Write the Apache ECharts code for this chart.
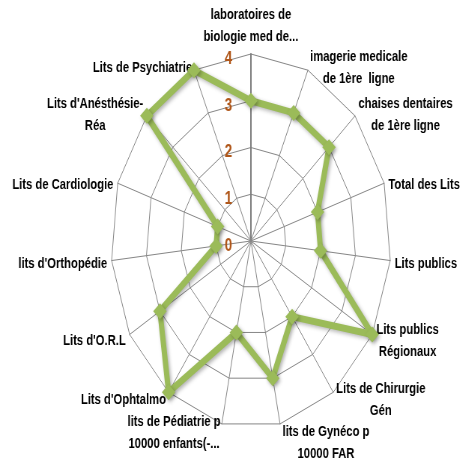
<!DOCTYPE html>
<html>
<head>
<meta charset="utf-8">
<script src="https://cdn.jsdelivr.net/npm/echarts@6/dist/echarts.min.js"></script>
<style>
    html, body { margin: 0; padding: 0; background: #fff; overflow: hidden; }
    #wrap { width: 466px; height: 462px; overflow: hidden; }
    /* the source picture is squeezed sideways, so draw wide and squeeze */
    #chart-container { width: 622px; height: 462px; transform: scaleX(0.749); transform-origin: 0 0; }
</style>
</head>
<body>
<div id="wrap"><div id="chart-container"></div></div>
<script>
var indicatorNames = [
    'laboratoires de\nbiologie med de...',
    'imagerie medicale\nde 1ère  ligne',
    'chaises dentaires\nde 1ère ligne',
    'Total des Lits',
    'Lits publics',
    'Lits publics\nRégionaux',
    'Lits de Chirurgie\nGén',
    'lits de Gynéco p\n10000 FAR',
    'lits de Pédiatrie p\n10000 enfants(-...',
    "Lits d'Ophtalmo",
    "Lits d'O.R.L",
    "lits d'Orthopédie",
    'Lits de Cardiologie',
    "Lits d'Anésthésie-\nRéa",
    'Lits de Psychiatrie'
];
var seriesValues = [3, 3, 3, 2, 2, 4, 2, 3, 2, 4, 3, 1, 1, 4, 4];
var axisMax = 4;

var NAME_FONT = 'bold 15px "Liberation Sans"';
var LABEL_COLOR = '#B0571A';

var chart = echarts.init(document.getElementById('chart-container'));

// echarts goes round anticlockwise, the source goes clockwise:
// keep the first axis on top and walk the rest backwards
var order = [0];
for (var k = indicatorNames.length - 1; k > 0; k--) {
    order.push(k);
}

var indicators = order.map(function (i) {
    var item = { name: indicatorNames[i], min: 0, max: axisMax };
    if (i == 0) {
        // only the first axis carries the scale numbers
        item.axisLabel = {
            show: true,
            margin: 25,
            formatter: '{n|{value}}',
            rich: {
                n: {
                    color: LABEL_COLOR,
                    fontSize: 18,
                    fontWeight: 'bold',
                    fontFamily: 'Liberation Sans',
                    padding: [10, 0, 0, 0]
                }
            }
        };
        item.axisLine = { lineStyle: { color: '#7f7f7f', width: 2 } };
    }
    if (i == 7) {
        item.nameGap = 16;
    }
    return item;
});
var values = order.map(function (i) {
    return seriesValues[i];
});

// multi-line names are centred line by line, like the source
var measureCtx = document.createElement('canvas').getContext('2d');
measureCtx.font = NAME_FONT;
function blockWidth(name) {
    var w = 0;
    name.split('\n').forEach(function (l) {
        w = Math.max(w, measureCtx.measureText(l).width);
    });
    return Math.ceil(w);
}
function nameFormatter(name) {
    var lines = name.split('\n');
    if (lines.length < 2) {
        return name;
    }
    var w = blockWidth(name);
    return lines.map(function (l) {
        return '{c' + w + '|' + l + '}';
    }).join('\n');
}
var nameRich = {};
indicatorNames.forEach(function (name) {
    var w = blockWidth(name);
    nameRich['c' + w] = {
        width: w,
        align: 'center',
        color: '#000',
        fontSize: 15,
        fontWeight: 'bold',
        lineHeight: 22,
        fontFamily: 'Liberation Sans'
    };
});

var option = {
    animation: false,
    backgroundColor: '#fff',
    radar: {
        center: [335, 241],
        radius: 187,
        shape: 'polygon',
        splitNumber: 4,
        startAngle: 90,
        nameGap: 6,
        axisName: {
            color: '#000',
            fontSize: 15,
            fontWeight: 'bold',
            lineHeight: 22,
            fontFamily: 'Liberation Sans',
            padding: [6, 0, 0, 0],
            formatter: nameFormatter,
            rich: nameRich
        },
        axisLine: { lineStyle: { color: '#868686', width: 1 } },
        splitLine: { lineStyle: { color: '#868686', width: 1 } },
        splitArea: { show: false },
        axisTick: { show: false },
        axisLabel: { show: false },
        indicator: indicators
    },
    series: [{
        type: 'radar',
        symbol: 'diamond',
        symbolSize: [18, 16],
        lineStyle: {
            color: '#9BBB59',
            width: 7,
            shadowColor: 'rgba(0,0,0,0.3)',
            shadowBlur: 4,
            shadowOffsetX: 2,
            shadowOffsetY: 2
        },
        itemStyle: {
            color: '#9BBB59',
            shadowColor: 'rgba(0,0,0,0.3)',
            shadowBlur: 4,
            shadowOffsetX: 2,
            shadowOffsetY: 2
        },
        data: [{ value: values }]
    }]
};

chart.setOption(option);
</script>
</body>
</html>
